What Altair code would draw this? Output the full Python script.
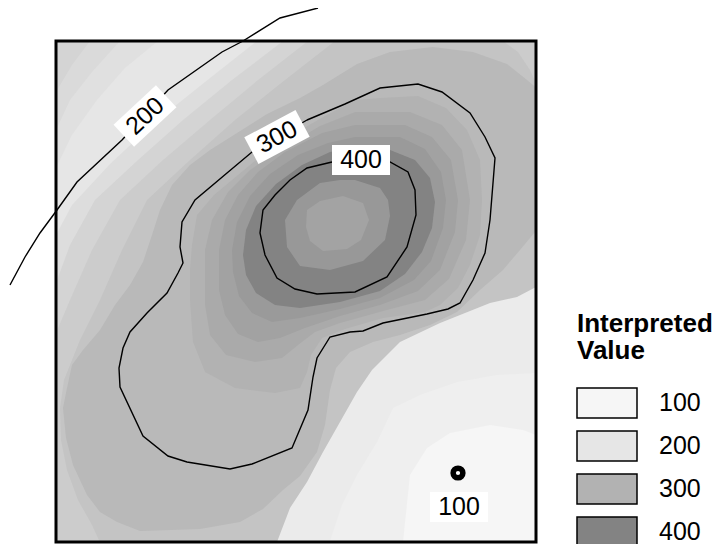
import altair as alt
import pandas as pd

# ---------------- map geometry (digitised map coordinates) ----------------
MAP_X = [56, 536]
MAP_Y = [41, 542]

# filled bands, listed in painting order (outer / lower first)
BG = [[40, 20], [560, 20], [560, 560], [40, 560]]
CORNER_C3 = [[100, 20], [560, 20], [560, 560], [40, 560], [40, 108], [56, 92], [72, 65], [90, 41]]
CORNER_C2 = [[130, 20], [560, 20], [560, 560], [40, 560], [40, 150], [56, 130], [70, 100], [92, 72], [120, 41]]
CORNER_C1 = [[170, 20], [560, 20], [560, 560], [40, 560], [40, 192], [56, 168], [72, 135], [97, 100], [125, 68], [158, 41]]
HILL_H1 = [[268, 20], [560, 20], [560, 560], [40, 560], [40, 262], [56, 235], [72, 205], [110, 164], [155, 122], [205, 82], [257, 41]]
HILL_H2 = [[293, 20], [560, 20], [560, 560], [40, 560], [40, 300], [56, 283], [70, 245], [95, 200], [138, 160], [183, 120], [232, 80], [283, 41]]
HILL_H3 = [[318, 20], [560, 20], [560, 560], [40, 560], [40, 350], [56, 333], [70, 300], [92, 250], [120, 200], [163, 160], [210, 120], [258, 80], [308, 41]]
HILL_O6 = [[345, 20], [495, 20], [503, 41], [518, 52], [530, 70], [540, 92], [560, 100], [560, 560], [108, 560],
           [92, 525], [78, 500], [67, 470], [61, 440], [60, 408], [64, 380], [80, 340], [100, 300], [122, 250],
           [147, 200], [190, 160], [235, 120], [285, 80], [335, 41]]
HILL_O5 = [[267, 114], [300, 98], [323, 85], [357, 64], [390, 52], [433, 47], [473, 52], [507, 64], [527, 80],
           [545, 95], [545, 228], [535, 232], [520, 250], [503, 270], [480, 290], [457, 312], [430, 325], [400, 335],
           [373, 342], [350, 352], [336, 368], [330, 390], [325, 425], [317, 452], [300, 476], [283, 490], [263, 509],
           [240, 522], [200, 529], [140, 531], [117, 522], [100, 512], [87, 495], [73, 465], [66, 438], [63, 408],
           [67, 388], [72, 365], [83, 350], [100, 330], [115, 305], [130, 285], [143, 262], [152, 235], [160, 210],
           [172, 185], [190, 165], [210, 150], [237, 133]]
HILL_O4 = [[355, 100], [380, 98], [418, 96], [446, 108], [467, 130], [480, 160], [482, 200], [480, 235], [470, 265],
           [458, 288], [440, 305], [425, 312], [383, 318], [345, 329], [322, 338], [311, 355], [307, 372], [300, 388],
           [275, 393], [235, 388], [205, 372], [193, 342], [190, 300], [190, 270], [192, 245], [197, 215], [214, 195],
           [238, 175], [262, 155], [290, 136], [325, 116]]
HILL_O3 = [[355, 112], [410, 112], [442, 125], [462, 150], [470, 200], [466, 240], [449, 279], [425, 300], [383, 311],
           [340, 323], [315, 332], [298, 345], [282, 358], [255, 362], [226, 355], [210, 335], [205, 305], [205, 250],
           [212, 220], [228, 192], [250, 170], [280, 150], [320, 126]]
HILL_O2 = [[355, 125], [405, 125], [432, 137], [451, 160], [458, 200], [455, 232], [440, 270], [418, 291], [380, 305],
           [340, 316], [305, 328], [280, 338], [258, 342], [238, 334], [225, 315], [219, 290], [219, 250], [225, 220],
           [238, 195], [258, 172], [285, 152], [322, 133]]
HILL_O1 = [[355, 137], [400, 137], [425, 149], [441, 172], [446, 200], [443, 228], [431, 261], [414, 280], [380, 298],
           [340, 309], [300, 318], [272, 322], [252, 313], [239, 296], [233, 272], [232, 250], [237, 222], [250, 196],
           [270, 174], [298, 155], [328, 143]]
HILL_PEAK = [[355, 147], [390, 150], [415, 160], [430, 178], [435, 202], [432, 228], [422, 252], [405, 274], [380, 291],
             [340, 302], [300, 308], [275, 305], [256, 293], [246, 275], [243, 255], [246, 230], [256, 206], [276, 184],
             [302, 165], [330, 152]]
HILL_RING = [[340, 180], [320, 183], [297, 200], [285, 220], [287, 247], [300, 266], [330, 270], [363, 261], [385, 240],
             [390, 216], [388, 200], [380, 188], [355, 180]]
HILL_CORE = [[307, 210], [320, 201], [343, 196], [363, 203], [369, 220], [361, 240], [347, 249], [323, 251], [310, 241],
             [306, 227]]
LOW_L1 = [[270, 560], [277, 542], [290, 508], [307, 482], [323, 452], [340, 422], [357, 392], [372, 370], [400, 342],
          [440, 323], [490, 303], [517, 297], [536, 287], [560, 282], [560, 560]]
LOW_L2 = [[325, 560], [330, 541], [342, 505], [357, 475], [377, 442], [393, 408], [420, 395], [457, 382], [497, 375],
          [536, 373], [560, 373], [560, 560]]
LOW_L3 = [[398, 560], [403, 542], [410, 475], [427, 448], [450, 433], [490, 425], [523, 430], [536, 435], [560, 440],
          [560, 560]]

BAND_LEVELS = ["230", "220", "210", "200", "205", "230", "240", "250", "290", "300", "325", "350", "375",
               "400", "425", "450", "150", "125", "100"]
BAND_SHAPES = [BG, CORNER_C3, CORNER_C2, CORNER_C1, HILL_H1, HILL_H2, HILL_H3, HILL_O6, HILL_O5, HILL_O4,
               HILL_O3, HILL_O2, HILL_O1, HILL_PEAK, HILL_RING, HILL_CORE, LOW_L1, LOW_L2, LOW_L3]

LEVEL_DOMAIN = ["100", "125", "150", "200", "205", "210", "220", "230", "240", "250", "290", "300", "325",
                "350", "375", "400", "425", "450"]
LEVEL_COLORS = ["#f6f6f6", "#efefef", "#ebebeb", "#e6e6e6", "#dddddd", "#e0e0e0", "#dadada", "#d4d4d4",
                "#cccccc", "#c4c4c4", "#b9b9b9", "#b2b2b2", "#aaaaaa", "#a2a2a2", "#9a9a9a", "#838383",
                "#989898", "#a3a3a3"]
LEGEND_VALUES = ["100", "200", "300", "400"]

# contour lines
LINE_200 = [[318, 8], [280, 18], [243, 41], [222, 52], [168, 90], [122, 140], [77, 182], [57, 210], [40, 233],
            [25, 257], [10, 285]]
LINE_300 = [[307, 120], [345, 104], [380, 88], [418, 84], [442, 92], [470, 113], [485, 137], [495, 158], [493, 183],
            [490, 220], [485, 253], [473, 280], [460, 303], [448, 309], [427, 314], [383, 323], [363, 331], [350, 332],
            [330, 337], [317, 358], [313, 377], [308, 410], [292, 448], [252, 464], [230, 469], [187, 462], [168, 456],
            [143, 436], [120, 387], [119, 368], [123, 348], [130, 332], [147, 313], [167, 293], [178, 273], [183, 263],
            [180, 247], [182, 222], [195, 200], [227, 173], [252, 152], [307, 120]]
LINE_400 = [[332, 162], [307, 168], [290, 180], [275, 195], [263, 210], [260, 233], [265, 255], [277, 278], [295, 289],
            [317, 294], [355, 292], [387, 277], [407, 247], [416, 215], [415, 190], [408, 172], [390, 162], [332, 162]]
LINE_NAMES = ["200", "300", "400"]
LINE_SHAPES = [LINE_200, LINE_300, LINE_400]

# contour labels
LABEL_TEXT = ["200", "300", "400", "100"]
LABEL_X = [145, 277, 361, 459]
LABEL_Y = [116, 137, 160, 507]
LABEL_ANGLE = [317, 332, 0, 0]

# sample point
SAMPLE_X = [458]
SAMPLE_Y = [473]

# ---------------- build data ----------------
features = []
for lvl, ring in zip(BAND_LEVELS, BAND_SHAPES):
    closed = [list(p) for p in ring] + [list(ring[0])]
    features.append({"type": "Feature", "properties": {"level": lvl},
                     "geometry": {"type": "Polygon", "coordinates": [closed]}})

frame_ring = [[MAP_X[0], MAP_Y[0]], [MAP_X[1], MAP_Y[0]], [MAP_X[1], MAP_Y[1]],
              [MAP_X[0], MAP_Y[1]], [MAP_X[0], MAP_Y[0]]]
frame_feature = [{"type": "Feature", "properties": {"name": "map extent"},
                  "geometry": {"type": "Polygon", "coordinates": [frame_ring]}}]

line_rows = []
for name, pts in zip(LINE_NAMES, LINE_SHAPES):
    for i, (x, y) in enumerate(pts):
        line_rows.append({"contour": name, "seq": i, "x": x, "y": y})
lines_df = pd.DataFrame(line_rows)

labels_df = pd.DataFrame({"text": LABEL_TEXT, "x": LABEL_X, "y": LABEL_Y, "angle": LABEL_ANGLE})
sample_df = pd.DataFrame({"x": SAMPLE_X, "y": SAMPLE_Y})

FONT = "Liberation Sans"
MARGIN = 8  # page margin: the view starts at page pixel (8, 8)

bands = alt.Chart(alt.Data(values=features)).mark_geoshape().encode(
    fill=alt.Color(
        "properties.level:N",
        scale=alt.Scale(domain=LEVEL_DOMAIN, range=LEVEL_COLORS),
        legend=alt.Legend(
            values=LEGEND_VALUES,
            title=["Interpreted", "Value"],
            titleFont=FONT, titleFontSize=26, titleFontWeight="bold", titleColor="black",
            titleLineHeight=27, titleLimit=400, titlePadding=23,
            labelFont=FONT, labelFontSize=25, labelColor="black", labelOffset=36,
            symbolType="M-2,-1H2V1H-2Z", symbolSize=900, symbolOffset=14,
            symbolStrokeColor="black", symbolStrokeWidth=1.5, symbolOpacity=1,
            rowPadding=7, orient="none", legendX=569, legendY=303,
        ),
    )
)

frame = alt.Chart(alt.Data(values=frame_feature)).mark_geoshape(
    filled=False, stroke="black", strokeWidth=3
)

lines = alt.Chart(lines_df).mark_line(color="black", strokeWidth=1.4).encode(
    longitude="x:Q", latitude="y:Q", detail="contour:N", order="seq:Q"
)

boxes = alt.Chart(labels_df).mark_point(
    shape="M-1,-0.52H1V0.52H-1Z", filled=True, fill="white", opacity=1, size=3364, strokeWidth=0
).encode(longitude="x:Q", latitude="y:Q", angle=alt.Angle("angle:Q", scale=None))

texts = alt.Chart(labels_df).mark_text(
    font=FONT, fontSize=25, color="black", align="center", baseline="middle"
).encode(longitude="x:Q", latitude="y:Q", text="text:N", angle=alt.Angle("angle:Q", scale=None))

sample = alt.Chart(sample_df).mark_point(
    shape="circle", size=95, filled=True, fill="white", stroke="black", strokeWidth=5.5, opacity=1
).encode(longitude="x:Q", latitude="y:Q")

chart = alt.layer(bands, frame, lines, boxes, texts, sample).project(
    type="identity", scale=1, translate=[-MARGIN, -MARGIN],
    clipExtent=[[MAP_X[0] - MARGIN, MAP_Y[0] - MARGIN], [MAP_X[1] - MARGIN, MAP_Y[1] - MARGIN]],
).properties(
    width=704, height=536, padding=0, autosize="none", background="white",
).configure_view(strokeWidth=0)

chart.save("out.html", embed_options={"renderer": "svg", "actions": False})
